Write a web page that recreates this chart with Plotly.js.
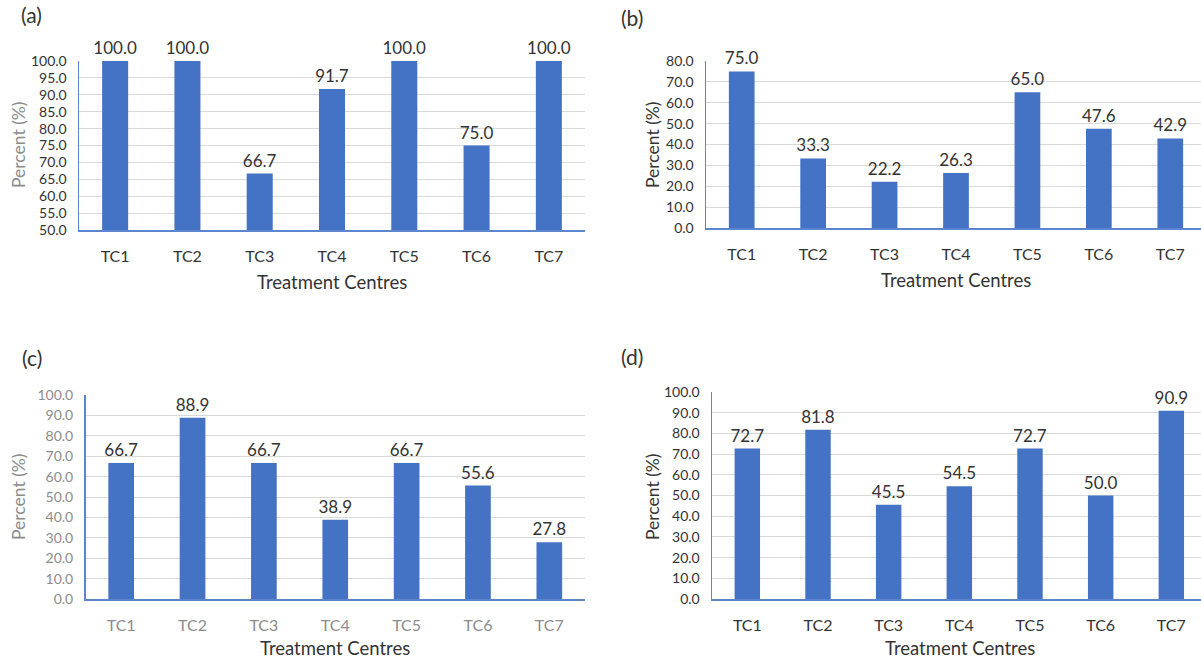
<!DOCTYPE html>
<html><head><meta charset="utf-8">
<script src="https://cdn.plot.ly/plotly-3.0.1.min.js"></script>
<style>html,body{margin:0;padding:0;background:#fff}</style>
</head><body><div id="chart" style="width:1201px;height:660px"></div>
<script>
const categories = ["TC1","TC2","TC3","TC4","TC5","TC6","TC7"];
const valuesA = [100.0, 100.0, 66.7, 91.7, 100.0, 75.0, 100.0];
const valuesB = [75.0, 33.3, 22.2, 26.3, 65.0, 47.6, 42.9];
const valuesC = [66.7, 88.9, 66.7, 38.9, 66.7, 55.6, 27.8];
const valuesD = [72.7, 81.8, 45.5, 54.5, 72.7, 50.0, 90.9];
const panelLabels = ["(a)","(b)","(c)","(d)"];
const xTitle = "Treatment Centres";
const yTitle = "Percent (%)";

const FONT = "Lato, 'Open Sans', sans-serif";
const BAR = "#4472C4";
const AXIS = "#5b86cf";
const GRID = "#d9d9d9";
const DARK = "#333333";
const GRAY = "#8c8c8c";
const W = 1201, H = 660;
const px = x => x / W, py = y => 1 - y / H;

function trace(vals, ax) {
  return {
    type: "bar", x: categories, y: vals, xaxis: "x" + ax, yaxis: "y" + ax,
    marker: {color: BAR}, width: 0.36,
    texttemplate: "%{y:.1f}", textposition: "outside", cliponaxis: false,
    constraintext: "none",
    textfont: {family: FONT, size: 17, color: DARK},
    hoverinfo: "x+y", showlegend: false
  };
}
const data = [trace(valuesA, ""), trace(valuesB, "2"), trace(valuesC, "3"), trace(valuesD, "4")];

function xax(dom, range, anchor, tickColor) {
  return {domain: dom, range: range, anchor: anchor, type: "category",
    showline: true, linecolor: AXIS, linewidth: 1.5, showgrid: false, zeroline: false,
    ticks: "", ticklabelstandoff: 11, tickfont: {family: FONT, size: 16, color: tickColor}, fixedrange: true};
}
function yax(dom, range, dtick, anchor, tickColor) {
  return {domain: dom, range: range, dtick: dtick, anchor: anchor, tickformat: ".1f",
    showline: true, linecolor: AXIS, linewidth: 1.5, showgrid: true, gridcolor: GRID, gridwidth: 1,
    zeroline: false, ticks: "", ticklabelstandoff: 8,
    tickfont: {family: FONT, size: 14, color: tickColor}, fixedrange: true};
}

const layout = {
  width: W, height: H, margin: {l: 0, r: 0, t: 0, b: 0},
  paper_bgcolor: "#fff", plot_bgcolor: "#fff", font: {family: FONT},
  uniformtext: {mode: false},
  xaxis: xax([px(79), px(585)], [-0.5, 6.5], "y", DARK),
  yaxis: yax([py(230), py(61)], [50, 100], 5, "x", DARK),
  xaxis2: xax([px(706), 1], [-0.5, 6.43], "y2", DARK),
  yaxis2: yax([py(228), py(61)], [0, 80], 10, "x2", DARK),
  xaxis3: xax([px(85.5), px(585)], [-0.5, 6.5], "y3", GRAY),
  yaxis3: yax([py(599), py(395)], [0, 100], 10, "x3", GRAY),
  xaxis4: xax([px(712), 1], [-0.5, 6.42], "y4", DARK),
  yaxis4: yax([py(599), py(392)], [0, 100], 10, "x4", DARK),
  annotations: []
};

function ann(text, x, y, opts) {
  return Object.assign({text: text, x: px(x), y: py(y), xref: "paper", yref: "paper",
    showarrow: false, xanchor: "center", yanchor: "middle",
    font: {family: FONT, size: 18.5, color: DARK}}, opts || {});
}
const PL = {family: FONT, size: 21, color: DARK};
layout.annotations.push(
  ann(panelLabels[0], 31, 15, {font: PL}),
  ann(panelLabels[1], 632, 17, {font: PL}),
  ann(panelLabels[2], 32, 357, {font: PL}),
  ann(panelLabels[3], 632, 356, {font: PL}),
  ann(xTitle, 332, 282),
  ann(xTitle, 956, 280),
  ann(xTitle, 335, 648),
  ann(xTitle, 960, 648),
  ann(yTitle, 18, 145, {textangle: -90, font: {family: FONT, size: 17.5, color: GRAY}}),
  ann(yTitle, 652, 145, {textangle: -90, font: {family: FONT, size: 17.5, color: DARK}}),
  ann(yTitle, 18, 497, {textangle: -90, font: {family: FONT, size: 17.5, color: GRAY}}),
  ann(yTitle, 652, 497, {textangle: -90, font: {family: FONT, size: 17.5, color: DARK}})
);

Plotly.newPlot("chart", data, layout, {staticPlot: true, displayModeBar: false});
</script></body></html>
